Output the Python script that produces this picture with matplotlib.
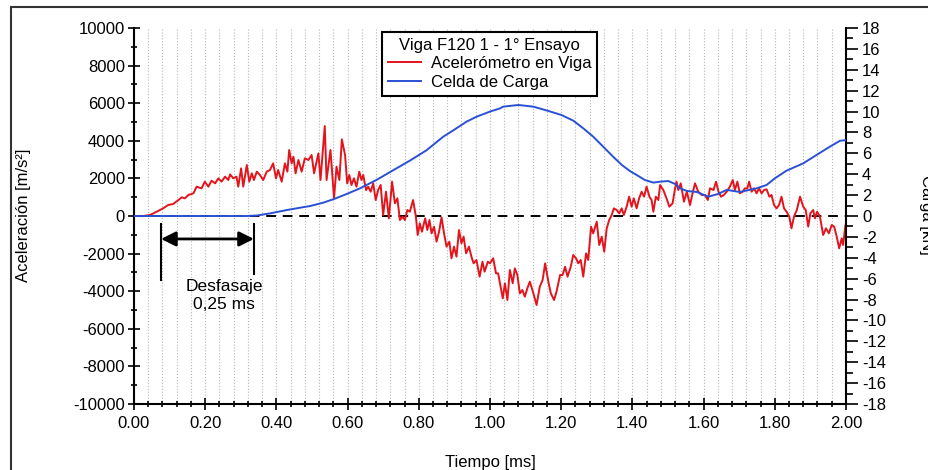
import matplotlib
matplotlib.use('Agg')
from matplotlib import pyplot as plt
from matplotlib.ticker import MultipleLocator, FormatStrFormatter
from matplotlib.patches import Rectangle

plt.rcParams['font.family'] = ['Liberation Sans', 'DejaVu Sans']
plt.rcParams['axes.unicode_minus'] = False

# Acelerómetro en viga: tiempo [ms] y aceleración [m/s²]
t_acc = [0.000, 0.026, 0.045, 0.064, 0.082, 0.096, 0.110, 0.125, 0.134, 0.143,
         0.153, 0.167, 0.176, 0.190, 0.199, 0.209, 0.218, 0.228, 0.237, 0.246,
         0.256, 0.265, 0.270, 0.279, 0.288, 0.293, 0.301, 0.307, 0.317, 0.324,
         0.331, 0.337, 0.345, 0.354, 0.363, 0.373, 0.382, 0.391, 0.399, 0.405,
         0.415, 0.424, 0.431, 0.436, 0.443, 0.448, 0.454, 0.462, 0.471, 0.480,
         0.490, 0.499, 0.506,
         0.518, 0.524, 0.536, 0.541, 0.546, 0.552, 0.562, 0.569, 0.577, 0.584,
         0.593, 0.599, 0.605, 0.611, 0.618, 0.625, 0.633, 0.639, 0.644, 0.652,
         0.658, 0.665, 0.672, 0.679, 0.686, 0.693, 0.700, 0.708, 0.716, 0.725,
         0.733, 0.740, 0.747, 0.754, 0.761, 0.768, 0.775, 0.784, 0.792, 0.797,
         0.803, 0.809, 0.818, 0.824, 0.830, 0.836, 0.843, 0.850, 0.857, 0.864,
         0.871, 0.878, 0.886, 0.892, 0.899, 0.906, 0.913, 0.920, 0.926, 0.933,
         0.941, 0.948, 0.954, 0.962, 0.971, 0.979, 0.985, 0.994,
         1.000, 1.009, 1.017, 1.023, 1.030, 1.036, 1.042, 1.049, 1.056, 1.064,
         1.070, 1.077, 1.084, 1.091, 1.098, 1.105, 1.112, 1.122, 1.131, 1.140,
         1.148, 1.155, 1.164, 1.171, 1.180, 1.187, 1.197, 1.204, 1.211, 1.218,
         1.227, 1.234, 1.242, 1.248, 1.255, 1.262, 1.270, 1.276, 1.284, 1.290,
         1.300, 1.307, 1.314, 1.321, 1.328, 1.335, 1.342, 1.348, 1.356, 1.363,
         1.370, 1.376, 1.384, 1.391, 1.398, 1.404, 1.412, 1.419, 1.426, 1.433,
         1.440, 1.448, 1.454, 1.459, 1.466, 1.473,
         1.478, 1.487, 1.496, 1.504, 1.513, 1.520, 1.524, 1.529, 1.536, 1.545,
         1.553, 1.562, 1.569, 1.576, 1.585, 1.595, 1.604, 1.612, 1.618, 1.628,
         1.635, 1.642, 1.649, 1.657, 1.665, 1.674, 1.682, 1.688, 1.695, 1.702,
         1.710, 1.716, 1.723, 1.728, 1.735, 1.742, 1.749, 1.756, 1.763, 1.770,
         1.777, 1.785, 1.791, 1.798, 1.805, 1.812, 1.819, 1.826, 1.833, 1.841,
         1.847, 1.854, 1.862, 1.871, 1.880, 1.887, 1.894, 1.900, 1.908, 1.913,
         1.919, 1.927, 1.936, 1.944, 1.952, 1.960, 1.967, 1.974, 1.981, 1.988,
         1.992, 1.998, 2.000]
acc = [0, 0, 53, 230, 408, 585, 638, 851, 993, 940,
       1117, 1206, 1560, 1472, 1827, 1560, 1880, 1738, 2004, 1827,
       2092, 1915, 2210, 2004, 2092, 1560, 2535, 1560, 2713, 1827,
       2270, 1915, 2358, 2181, 1915, 2358, 2447, 2802, 2004, 2447,
       1827, 2802, 2358, 3510, 2802, 3156, 2270, 2979, 2358, 3068,
       2979, 3245, 2270,
       3334, 1915, 4787, 1915, 2624, 3510, 940, 2624, 1915, 4078,
       3245, 1738, 2181, 1650, 2004, 1560, 2358, 1915, 2181, 1383,
       1560, 1294, 1738, 851, 1383, 1650, 53, 1294, -124, 1826,
       675, 940, -213, -35, -213, 319, 230, 851, -35, -1010,
       -390, -834, -124, -745, -213, -922, -567, -1365, -834, -70,
       -922, -1630, -1365, -2252, -1630, -2163, -745, -1453, -1099, -1985,
       -1630, -2163, -2517, -2340, -3226, -2429, -2960, -2429,
       -2517, -2252, -3050, -3050, -3758, -4380, -3580, -4470, -2874, -3580,
       -2785, -3140, -4113, -3935, -4290, -3846, -3492, -4113, -4734, -3758,
       -3404, -2517, -3492, -4113, -4470, -4024, -3138, -3138, -2696, -3226,
       -2696, -2074, -2252, -2517, -2340, -3226, -1985, -2340, -567, -922,
       -302, -1542, -1099, -1897, -656, -213, 53, 408, 319, 142,
       408, 53, 496, 1028, 496, 940, 408, 940, 1294, 1028,
       1560, 1028, 851, 230, 1028, 851,
       1649, 1383, 940, 496, 674, 1472, 1826, 1383, 1737, 763,
       1294, 585, 1206, 1737, 1294, 1117, 1117, 851, 1472, 1383,
       1826, 1294, 1028, 1117, 1294, 1560, 1915, 1383, 1826, 1206,
       1294, 1472, 1472, 1826, 1294, 1472, 1206, 1472, 1206, 1383,
       1420, 1028, 1117, 585, 408, 585, 1028, 408, 230, -35,
       -656, -35, 319, 1028, 496, 319, -567, 142, 319, -124,
       230, -35, -1010, -656, -922, -478, -567, -1099, -1720, -1188,
       -1542, -567, -400]

# Celda de carga: tiempo [ms] y carga [kN]
t_load = [0.000, 0.300, 0.317, 0.345, 0.382, 0.429, 0.476, 0.494, 0.532, 0.562,
          0.597, 0.635, 0.681, 0.729, 0.775, 0.822, 0.869, 0.897, 0.934, 0.962,
          1.000, 1.028, 1.037, 1.080, 1.122, 1.164, 1.201, 1.234, 1.262, 1.290,
          1.318, 1.346, 1.370, 1.393, 1.412, 1.435, 1.459, 1.478, 1.501, 1.520,
          1.534, 1.553, 1.581, 1.613, 1.640, 1.665, 1.702, 1.749, 1.777, 1.800,
          1.833, 1.880, 1.917, 1.955, 1.983, 2.000]
load = [0.0, 0.0, 0.0, 0.05, 0.25, 0.57, 0.85, 0.95, 1.28, 1.63,
        2.1, 2.65, 3.45, 4.4, 5.3, 6.3, 7.6, 8.2, 9.03, 9.5,
        10.0, 10.3, 10.47, 10.63, 10.47, 10.06, 9.67, 9.13, 8.4, 7.6,
        6.64, 5.68, 4.9, 4.31, 3.93, 3.45, 3.2, 3.29, 3.35, 3.07,
        2.65, 2.4, 2.3, 1.85, 2.1, 2.5, 2.3, 2.65, 2.97, 3.6,
        4.34, 5.04, 5.84, 6.64, 7.2, 7.27]

red = '#e3141c'
blue = '#2a50d4'
fs = 12

fig = plt.figure(figsize=(9.29, 4.70), dpi=100)
ax = fig.add_axes([0.1442, 0.1404, 0.7664, 0.8])
ax2 = ax.twinx()

ax.grid(which='both', axis='x', ls=':', color='#b8b8b8', lw=0.8)
ax.axhline(0, color='black', lw=1.4, ls=(0, (5, 3.5)), zorder=2)
l1, = ax.plot(t_acc, acc, color=red, lw=1.4, zorder=3)
l2, = ax2.plot(t_load, load, color=blue, lw=1.4, zorder=3)

ax.set_xlim(0, 2)
ax.set_ylim(-10000, 10000)
ax2.set_ylim(-18, 18)

ax.xaxis.set_major_locator(MultipleLocator(0.2))
ax.xaxis.set_minor_locator(MultipleLocator(0.04))
ax.xaxis.set_major_formatter(FormatStrFormatter('%.2f'))
ax.yaxis.set_major_locator(MultipleLocator(2000))
ax.yaxis.set_minor_locator(MultipleLocator(1000))
ax2.yaxis.set_major_locator(MultipleLocator(2))
ax2.yaxis.set_minor_locator(MultipleLocator(1))

for a in (ax, ax2):
    for s in a.spines.values():
        s.set_linewidth(1.5)
    a.spines['top'].set_visible(False)
ax.spines['right'].set_visible(False)
ax2.spines['left'].set_visible(False)
ax2.spines['bottom'].set_visible(False)

ax.tick_params(which='major', direction='inout', length=9, width=1.2, labelsize=fs, pad=2)
ax.tick_params(which='minor', direction='inout', length=5, width=1.2)
ax.tick_params(axis='x', which='major', pad=4)
ax2.tick_params(which='major', direction='out', length=8.5, width=1.2, labelsize=fs, pad=3)
ax2.tick_params(which='minor', direction='out', length=5, width=1.2)

# desfasaje entre acelerómetro y celda
ax.plot([0.076, 0.076], [-430, -3400], color='black', lw=1.5)
ax.plot([0.337, 0.337], [-430, -3100], color='black', lw=1.5)
ax.annotate('', xy=(0.076, -1220), xytext=(0.337, -1220),
            arrowprops=dict(arrowstyle='<|-|>', color='black', lw=2,
                            mutation_scale=22, shrinkA=0, shrinkB=0))
ax.text(0.253, -4230, 'Desfasaje\n0,25 ms', ha='center', va='center', fontsize=12.5,
        linespacing=1.2)

leg = ax2.legend([l1, l2], ['Acelerómetro en Viga', 'Celda de Carga'],
                 title='Viga F120 1 - 1° Ensayo', loc='upper left',
                 bbox_to_anchor=(0.348, 0.99), fancybox=False, edgecolor='black',
                 framealpha=1, fontsize=fs, title_fontsize=fs, borderpad=0.35,
                 labelspacing=0.22, handlelength=2.0, handletextpad=0.6,
                 borderaxespad=0)
leg.get_frame().set_linewidth(1.5)

fig.text(24 / 929, 0.5426, 'Aceleración [m/s²]', rotation=90, ha='center', va='center',
         fontsize=fs)
fig.text(490 / 929, 1 - 462 / 470, 'Tiempo [ms]', ha='center', va='center', fontsize=fs)
fig.text(0.989, 0.5426, 'Carga [kN]', rotation=270, ha='left', va='center', fontsize=fs)

fig.patches.append(Rectangle((11 / 929, -0.02), 1.1, 1.005, transform=fig.transFigure,
                             fill=False, lw=1.5, ec='#333333'))

fig.savefig('out.png', dpi=100)
